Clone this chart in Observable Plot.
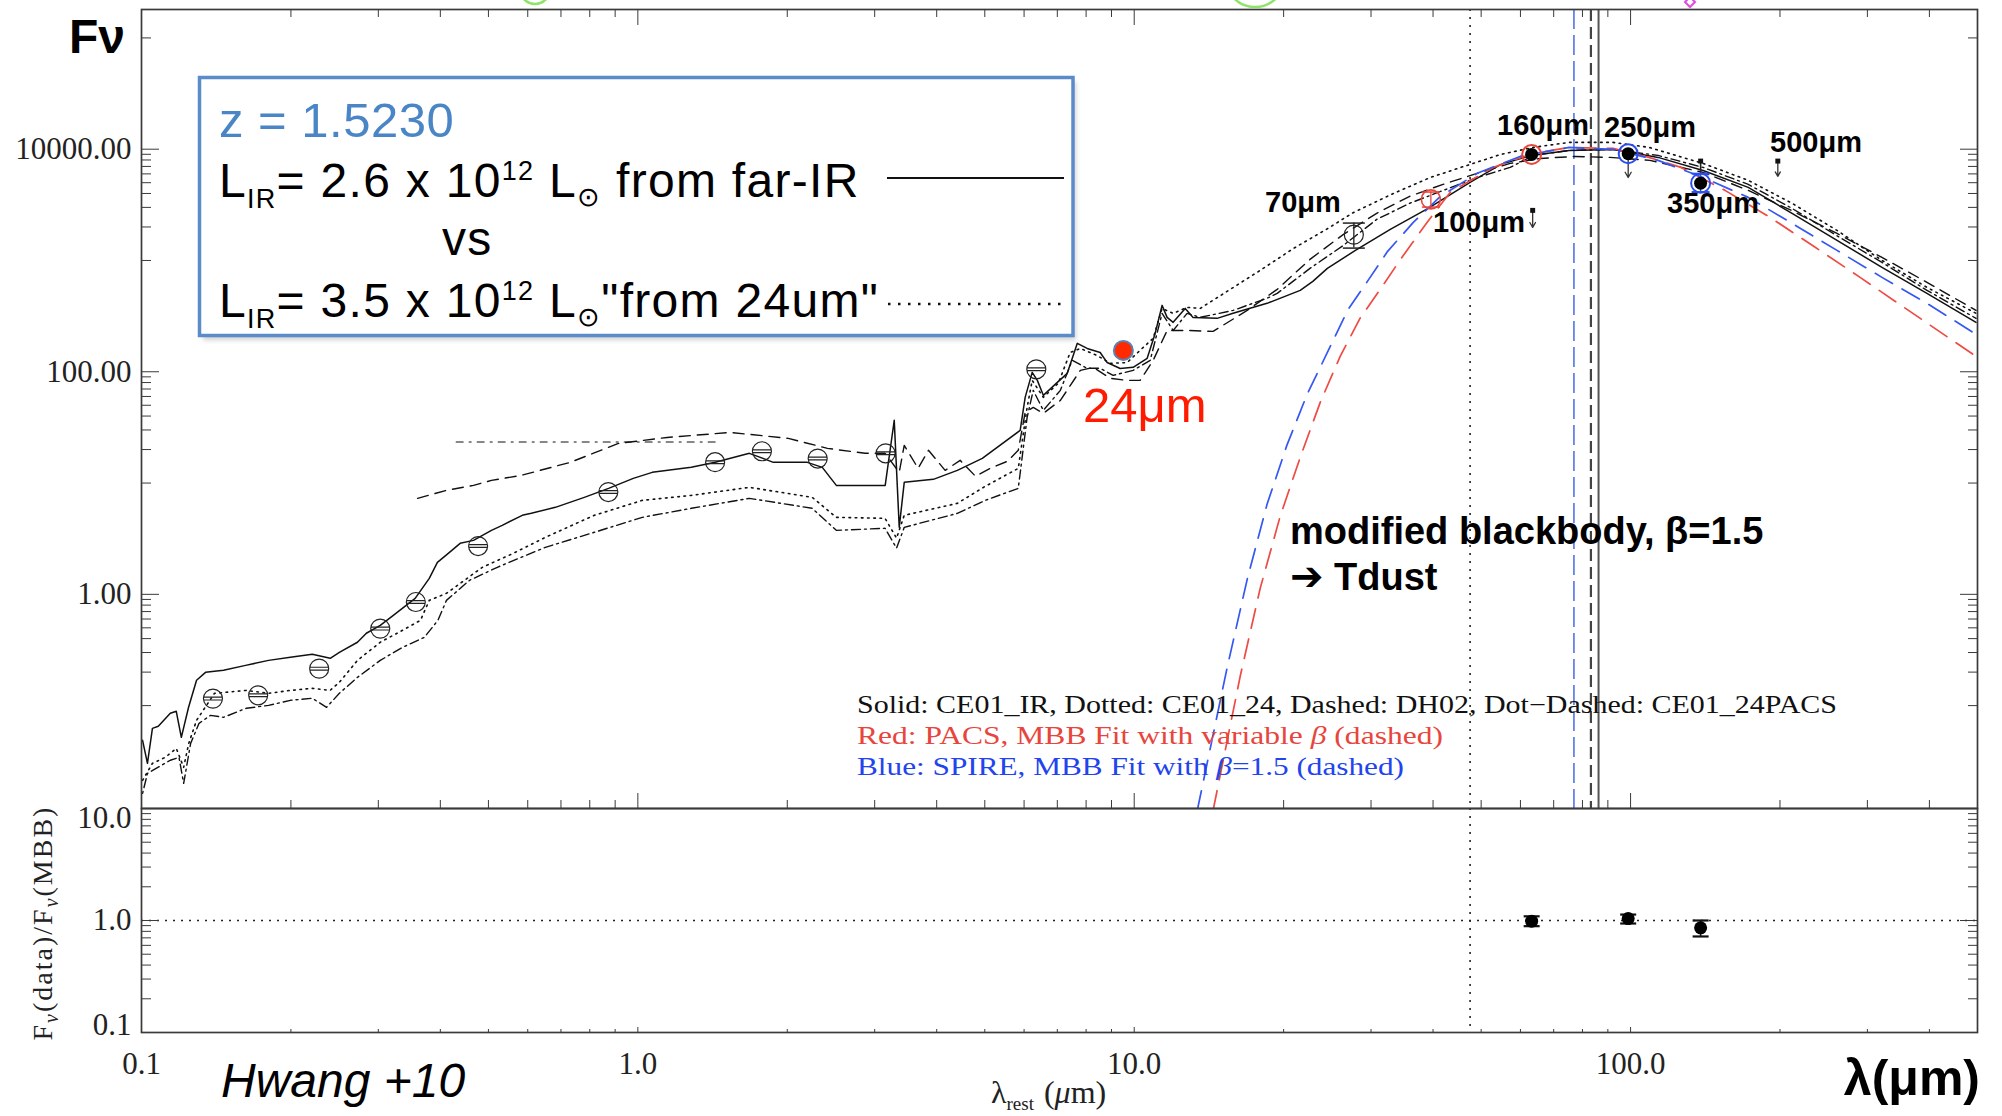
<!DOCTYPE html>
<html><head><meta charset="utf-8">
<script src="https://cdn.jsdelivr.net/npm/d3@7"></script>
<script src="https://cdn.jsdelivr.net/npm/@observablehq/plot@0.6"></script>
<style>
html,body{margin:0;padding:0;background:#fff;}
#wrap{position:relative;width:2002px;height:1116px;overflow:hidden;background:#fff;}
</style></head><body><div id="wrap"></div>
<script>
// ---------------- data (rest wavelength in micron, flux) ----------------
const solidLam = [0.1005,0.1028,0.1052,0.1081,0.1143,0.1175,0.1203,0.1244,0.1291,0.1346,0.1463,0.1621,0.1803,0.1995,0.2208,0.240,0.2504,0.2723,0.2838,0.3027,0.3216,0.3559,0.380,0.3946,0.415,0.4385,0.4665,0.507,0.533,0.585,0.610,0.682,0.780,0.873,0.979,1.069,1.281,1.432,1.678,1.875,2.195,2.353,2.511,3.150,3.285,3.362,3.441,3.938,4.402,4.942,5.892,6.03,6.23,6.38,6.56,7.00,7.33,7.68,8.04,8.54,8.82,9.37,9.95,10.62,11.02,11.38,11.65,11.98,12.67,13.14,14.69,15.82,18.52,21.6,22.9,24.5,27.9,32.8,39.1,47.5,54.8,63.1,75.2,92.2,100.3,113.6,140,172.6,211.5,260.6,321,395.5,496.6];
const solidF = [0.0488,0.0303,0.0625,0.0652,0.0853,0.0889,0.0519,0.0966,0.169,0.199,0.2075,0.230,0.255,0.272,0.289,0.266,0.301,0.371,0.447,0.526,0.647,0.921,1.393,1.94,2.335,2.873,3.055,3.758,4.169,5.127,5.343,6.05,7.44,8.96,11.02,12.48,13.84,15.35,18.49,15.35,15.35,13.84,9.53,9.53,36.6,4.0,10.15,10.8,13.0,16.67,29.7,58.9,98.8,83.7,61.4,80.3,96.8,180,162,149,121,107,109.6,132,221,395,308,278,371,308,302,335,412,539,649,849,1233,1903,2938,5031,7300,8790,9750,9960,9350,8440,6440,4540,2650,1517,867,506,278];

const dottedLam = [0.1005,0.1052,0.1117,0.1175,0.1216,0.1245,0.1291,0.1403,0.1626,0.1803,0.1995,0.2208,0.2399,0.2504,0.2723,0.3027,0.3357,0.3648,0.380,0.4115,0.486,0.561,0.651,0.817,1.021,1.282,1.678,2.245,2.511,3.148,3.32,3.441,4.402,5.01,5.84,6.085,6.23,6.56,7.03,7.43,7.79,8.42,8.95,9.68,10.28,10.92,11.38,11.98,12.78,13.58,15.38,17.94,20.9,24.5,27.6,33.2,39.5,47.5,54.8,63.7,75.2,92.2,108.9,140,172.6,211.5,260.6,321,395.5,496.6];
const dottedF = [0.0213,0.0303,0.0343,0.0413,0.0279,0.0458,0.0738,0.129,0.137,0.129,0.137,0.143,0.137,0.162,0.255,0.371,0.475,0.584,0.883,1.02,1.749,2.335,3.25,5.13,6.99,7.75,9.15,7.44,4.92,4.82,3.2,5.13,6.57,9.34,13.55,47.9,83.7,58.9,78.7,149,162,140,119,121,156,200,371,335,379,371,527,815,1277,1928,2685,3981,5570,7300,8980,10380,11510,11510,10380,7450,5250,3266,1862,1002,573,335];

const dashLam = [0.360,0.4115,0.4665,0.507,0.582,0.731,0.914,1.146,1.536,2.01,2.41,2.87,3.148,3.362,3.441,3.67,3.85,4.16,4.46,4.79,5.13,5.55,5.84,6.03,6.26,6.56,7.10,7.79,8.27,8.95,9.68,10.28,10.92,11.65,12.78,14.42,16.89,19.41,22.6,26.4,30.8,35.9,41.9,49.1,57.2,65.8,77.3,90.9,109.4,140,172.6,211.5,260.6,321,395.5,496.6];
const dashF = [7.29,8.6,9.53,10.57,11.72,15.35,22.7,25.7,28.5,25.2,20.5,18.5,18.5,12.48,21.8,13.55,19.7,13.0,16.0,11.5,13.55,15.67,19.7,43.2,47.9,42.3,55.3,103,109.6,87.3,83.7,83.7,126.6,235,235,230.7,356,550,1023,1718,2655,3776,4830,6070,7450,8260,8610,8440,7930,6190,4265,2800,1750,1067,636,356];

const dashFlatLam = [0.4305,1.432];
const dashFlatF = [23.4,23.4];

const dotDashLam = [0.1005,0.1028,0.1143,0.119,0.1216,0.1256,0.1306,0.1377,0.1463,0.1626,0.1803,0.1995,0.2208,0.236,0.2504,0.2723,0.3027,0.3357,0.3715,0.3955,0.4115,0.458,0.521,0.651,0.817,1.021,1.282,1.678,2.245,2.511,3.148,3.32,3.441,4.402,5.01,5.84,6.085,6.26,6.56,7.10,7.50,8.04,8.54,9.07,9.95,10.77,11.38,11.98,12.78,13.58,15.82,18.52,19.41,22.6,26.4,30.8,35.9,41.9,49.1,57.2,63.7,75.2,92.2,113.6,140,172.6,211.5,260.6,321,395.5,496.6];
const dotDashF = [0.0163,0.0246,0.0323,0.0343,0.020,0.0458,0.0693,0.0818,0.0785,0.0946,0.1006,0.1116,0.1164,0.0966,0.129,0.1795,0.255,0.334,0.411,0.584,0.883,1.336,1.749,2.645,3.61,4.92,5.93,7.29,5.93,3.76,3.92,2.6,4.0,5.34,6.99,8.96,38.9,68.1,45.0,68.1,126.6,107.4,107.4,92.8,103,126.6,335,235,335,308,356,457,506,849,1368,2339,3266,4256,5570,6860,8790,9750,9960,8790,6860,4830,2938,1667,961,539,302];

const redLam = [14.42,16.35,17.94,19.68,21.6,23.7,26.0,28.5,31.3,34.4,38.9,43.3,52.9,63.7,75.2,92.2,108.9,126.4,155,191,235.5,290,355.6,496.6];
const redF = [0.01146,0.1834,1.132,5.02,17.0,53.1,137.5,302,550,1023,2198,4090,6860,9170,10380,10160,8440,6860,4265,2440,1313,705,379,137.5];

const blueLam = [13.4,15.38,16.89,18.52,20.3,22.3,24.5,26.9,29.5,32.4,36.5,41.4,49.1,59.9,75.2,92.2,113.6,140,172.6,211.5,260.6,321,395.5,496.6];
const blueF = [0.01146,0.2164,1.364,6.44,21.8,62.6,149,356,649,1208,2198,3767,6070,8610,10380,9960,7930,5570,3690,2155,1233,705,412,217];

// photometry
const photLam = [0.1393,0.1718,0.228,0.3027,0.357,0.4766,0.872,1.431,1.778,2.303,3.156,6.35];
const photF = [0.1156,0.1238,0.215,0.492,0.853,2.716,8.30,15.4,19.3,16.6,18.5,105.2];
const mipsLam = [9.51], mipsF = [155.6];
const pacs70Lam = [27.7], pacs70F = [1706], pacs70Lo = [1292], pacs70Hi = [2168];
const pacs100Lam = [39.6], pacs100F = [3540], pacs100Lo = [3020], pacs100Hi = [4120];
const farLam = [63.2, 98.9, 138.4], farF = [8980, 9120, 4955], farRing = ["#e8453c", "#2b4ef0", "#2b4ef0"];
const s350Lo = [4120], s350Hi = [6025], s350Stem = [5900, 7820];
const ulLam = [63.5, 98.9, 198], ulTop = [2820, 8600, 7820], ulTip = [1983, 5570, 5700];
const sqLam = [63.5, 138.4, 198], sqF = [2820, 7820, 7820];

// ratio panel
const ratioLam = [63.2, 98.9, 138.4];
const ratio = [0.986, 1.04, 0.86];
const ratioLo = [0.89, 0.94, 0.72];
const ratioHi = [1.09, 1.13, 1.0];

// reference lines
const vDotted = [47.5], vBlueDash = [76.9], vDash = [83.2], vSolid = [86.2];

// ticks
const xMajor = [0.1, 1, 10, 100];
const xMinor = [0.2,0.3,0.4,0.5,0.6,0.7,0.8,0.9,2,3,4,5,6,7,8,9,20,30,40,50,60,70,80,90,200,300,400];
const yMainMajor = [1, 100, 10000];
const yMainMinor = [0.1,0.2,0.3,0.4,0.5,0.6,0.7,0.8,0.9,10,20,30,40,50,60,70,80,90,1000,2000,3000,4000,5000,6000,7000,8000,9000,100000];
const yLowMajor = [0.1, 1, 10];
const yLowMinor = [0.2,0.3,0.4,0.5,0.6,0.7,0.8,0.9,2,3,4,5,6,7,8,9];

// ---------------- build ----------------
const zip = (L, F) => L.map((l, i) => ({l, f: F[i]}));
const ink = "#3a3a3a";
const barCircle = {draw(ctx, size) { const r = Math.sqrt(size / Math.PI); ctx.moveTo(r, 0); ctx.arc(0, 0, r, 0, 2 * Math.PI); ctx.moveTo(-r, -1.4); ctx.lineTo(r, -1.4); ctx.moveTo(-r, 1.4); ctx.lineTo(r, 1.4); }};
const cap = {draw(ctx, size) { const r = Math.sqrt(size / Math.PI); ctx.moveTo(-r, 0); ctx.lineTo(r, 0); }};
const svgStyle = {position: "absolute", left: "0px", top: "0px", background: "transparent", fontFamily: "'Liberation Serif','DejaVu Serif',serif", fontSize: "31px", color: "#222"};

const farPts = farLam.map((l, i) => ({l, f: farF[i], ring: farRing[i]}));
const ul = ulLam.map((l, i) => ({l, top: ulTop[i], tip: ulTip[i]}));
const lineOpts = (extra) => ({x: "l", y: "f", clip: true, strokeWidth: 1.4, stroke: "#111", ...extra});

const main = Plot.plot({
  width: 2002, height: 812,
  marginTop: 9, marginBottom: 4, marginLeft: 141, marginRight: 25,
  x: {type: "log", domain: [0.1, 500], label: null},
  y: {type: "log", domain: [0.0119, 180000], label: null},
  style: svgStyle,
  marks: [
    Plot.ruleX(vDotted, {stroke: "#222", strokeWidth: 1.6, strokeDasharray: "2,6"}),
    Plot.ruleX(vBlueDash, {stroke: "#3a5fe6", strokeWidth: 1.4, strokeDasharray: "20,6"}),
    Plot.ruleX(vDash, {stroke: "#444", strokeWidth: 2.2, strokeDasharray: "12,6"}),
    Plot.ruleX(vSolid, {stroke: "#555", strokeWidth: 2}),
    Plot.line(zip(dashFlatLam, dashFlatF), lineOpts({strokeWidth: 1.1, strokeDasharray: "7,6,2,6"})),
    Plot.line(zip(dottedLam, dottedF), lineOpts({strokeWidth: 1.6, strokeDasharray: "1.6,4.6"})),
    Plot.line(zip(dotDashLam, dotDashF), lineOpts({strokeWidth: 1.4, strokeDasharray: "2,4,9,4"})),
    Plot.line(zip(dashLam, dashF), lineOpts({strokeWidth: 1.4, strokeDasharray: "11,7"})),
    Plot.line(zip(solidLam, solidF), lineOpts({strokeWidth: 1.5})),
    Plot.line(zip(redLam, redF), lineOpts({stroke: "#ee4b44", strokeWidth: 1.7, strokeDasharray: "20,11"})),
    Plot.line(zip(blueLam, blueF), lineOpts({stroke: "#3557f2", strokeWidth: 1.7, strokeDasharray: "20,11"})),
    // photometry
    Plot.dot(zip(photLam, photF), {x: "l", y: "f", r: 9.5, symbol: barCircle, stroke: "#222", strokeWidth: 1.2, fill: "none"}),
    Plot.ruleX(pacs70Lam.map((l, i) => ({l, lo: pacs70Lo[i], hi: pacs70Hi[i]})), {x: "l", y1: "lo", y2: "hi", stroke: "#222", strokeWidth: 1.3}),
    Plot.dot(pacs70Lam.flatMap((l, i) => [{l, f: pacs70Lo[i]}, {l, f: pacs70Hi[i]}]), {x: "l", y: "f", r: 11, symbol: cap, stroke: "#222", strokeWidth: 1.5}),
    Plot.dot(zip(pacs70Lam, pacs70F), {x: "l", y: "f", r: 9.5, stroke: "#222", strokeWidth: 1.2, fill: "none"}),
    Plot.ruleX(pacs100Lam.map((l, i) => ({l, lo: pacs100Lo[i], hi: pacs100Hi[i]})), {x: "l", y1: "lo", y2: "hi", stroke: "#e8453c", strokeWidth: 1.3}),
    Plot.dot(pacs100Lam.flatMap((l, i) => [{l, f: pacs100Lo[i]}, {l, f: pacs100Hi[i]}]), {x: "l", y: "f", r: 9, symbol: cap, stroke: "#e8453c", strokeWidth: 1.5}),
    Plot.dot(zip(pacs100Lam, pacs100F), {x: "l", y: "f", r: 9.5, stroke: "#e8453c", strokeWidth: 1.6, fill: "none"}),
    Plot.dot(zip(mipsLam, mipsF), {x: "l", y: "f", r: 9.5, fill: "#ff2a00", stroke: "#5b82b5", strokeWidth: 2}),
    Plot.arrow(ul, {x: "l", y1: "top", y2: "tip", stroke: "#333", strokeWidth: 1.3, headLength: 7}),
    Plot.ruleX([{l: farLam[2], lo: s350Stem[0], hi: s350Stem[1]}], {x: "l", y1: "lo", y2: "hi", stroke: "#222", strokeWidth: 1.6}),
    Plot.dot(zip(sqLam, sqF), {x: "l", y: "f", r: 2.8, symbol: "square", fill: "#111"}),
    Plot.ruleX([{l: farLam[2], lo: s350Lo[0], hi: s350Hi[0]}], {x: "l", y1: "lo", y2: "hi", stroke: "#2b4ef0", strokeWidth: 1.4}),
    Plot.dot([{l: farLam[2], f: s350Lo[0]}, {l: farLam[2], f: s350Hi[0]}], {x: "l", y: "f", r: 9, symbol: cap, stroke: "#2b4ef0", strokeWidth: 2}),
    Plot.dot(farPts, {x: "l", y: "f", r: 6.5, fill: "#000"}),
    Plot.dot(farPts, {x: "l", y: "f", r: 9.5, fill: "none", stroke: "ring", strokeWidth: 2}),
    // axes
    Plot.axisY(yMainMajor, {anchor: "left", tickSize: -18, fill: "none", stroke: ink, label: null}),
    Plot.axisY(yMainMinor, {anchor: "left", tickSize: -10, fill: "none", stroke: ink, label: null}),
    Plot.axisY(yMainMajor, {anchor: "right", tickSize: -18, fill: "none", stroke: ink, label: null}),
    Plot.axisY(yMainMinor, {anchor: "right", tickSize: -10, fill: "none", stroke: ink, label: null}),
    Plot.axisX(xMajor, {anchor: "top", tickSize: -15, fill: "none", stroke: ink, label: null}),
    Plot.axisX(xMinor, {anchor: "top", tickSize: -7, fill: "none", stroke: ink, label: null}),
    Plot.axisX(xMajor, {anchor: "bottom", tickSize: -15, fill: "none", stroke: ink, label: null}),
    Plot.axisX(xMinor, {anchor: "bottom", tickSize: -8, fill: "none", stroke: ink, label: null}),
    Plot.axisY(yMainMajor, {anchor: "left", tickSize: 0, tickPadding: 10, tickFormat: d3.format(".2f"), fill: "#222", label: null}),
    Plot.frame({stroke: ink, strokeWidth: 1.7})
  ]
});

const low = Plot.plot({
  width: 2002, height: 1116,
  marginTop: 808, marginBottom: 84, marginLeft: 141, marginRight: 25,
  x: {type: "log", domain: [0.1, 500], label: null},
  y: {type: "log", domain: [0.1, 10], label: null},
  style: svgStyle,
  marks: [
    Plot.ruleY([1], {stroke: "#222", strokeWidth: 1.6, strokeDasharray: "2,6"}),
    Plot.ruleX(vDotted, {stroke: "#222", strokeWidth: 1.6, strokeDasharray: "2,6"}),
    Plot.ruleX(ratioLam.map((l, i) => ({l, lo: ratioLo[i], hi: ratioHi[i]})), {x: "l", y1: "lo", y2: "hi", stroke: "#111", strokeWidth: 1.6}),
    Plot.dot(ratioLam.flatMap((l, i) => [{l, f: ratioLo[i]}, {l, f: ratioHi[i]}]), {x: "l", y: "f", r: 8, symbol: cap, stroke: "#111", strokeWidth: 2.2}),
    Plot.dot(zip(ratioLam, ratio), {x: "l", y: "f", r: 6.5, fill: "#000"}),
    Plot.axisY(yLowMajor, {anchor: "left", tickSize: -18, fill: "none", stroke: ink, label: null}),
    Plot.axisY(yLowMinor, {anchor: "left", tickSize: -10, fill: "none", stroke: ink, label: null}),
    Plot.axisY(yLowMajor, {anchor: "right", tickSize: -18, fill: "none", stroke: ink, label: null}),
    Plot.axisY(yLowMinor, {anchor: "right", tickSize: -10, fill: "none", stroke: ink, label: null}),
    Plot.axisX(xMajor, {anchor: "bottom", tickSize: -5, fill: "none", stroke: ink, label: null}),
    Plot.axisX(xMinor, {anchor: "bottom", tickSize: -3, fill: "none", stroke: ink, label: null}),
    Plot.axisX(xMajor, {anchor: "bottom", tickSize: 0, tickPadding: 19, tickFormat: d3.format(".1f"), fill: "#222", label: null}),
    Plot.axisY([yLowMajor[2]], {anchor: "left", tickSize: 0, tickPadding: 10, dy: 10, tickFormat: d3.format(".1f"), fill: "#222", label: null}),
    Plot.axisY([yLowMajor[1]], {anchor: "left", tickSize: 0, tickPadding: 10, tickFormat: d3.format(".1f"), fill: "#222", label: null}),
    Plot.axisY([yLowMajor[0]], {anchor: "left", tickSize: 0, tickPadding: 10, dy: -7, tickFormat: d3.format(".1f"), fill: "#222", label: null}),
    Plot.frame({stroke: ink, strokeWidth: 1.7})
  ]
});

const wrap = document.getElementById("wrap");
wrap.appendChild(main);
wrap.appendChild(low);

const overlay = `
<svg xmlns="http://www.w3.org/2000/svg" width="2002" height="1116" style="position:absolute;left:0;top:0" font-family="'Liberation Sans', Arial, sans-serif">
<defs><filter id="sh" x="-5%" y="-5%" width="110%" height="120%"><feGaussianBlur stdDeviation="2.5"/></filter></defs>
<circle cx="535" cy="-11" r="15" fill="none" stroke="#8ee36b" stroke-width="2.5"/>
<circle cx="1255" cy="-23" r="30" fill="none" stroke="#8ee36b" stroke-width="2.5"/>
<path d="M1690,-3 l5,5 l-5,5 l-5,-5z" fill="none" stroke="#e24be0" stroke-width="2"/>
<text x="69" y="53" font-size="48" font-weight="bold">Fν</text>
<rect x="203" y="82" width="873" height="258" fill="#999" opacity="0.45" filter="url(#sh)"/>
<rect x="199.5" y="77.5" width="873.5" height="258" fill="#fff" stroke="#5b8cc9" stroke-width="3.5"/>
<text x="219" y="137" font-size="49" fill="#4a86c6" letter-spacing="0.5">z = 1.5230</text>
<g font-size="48" fill="#000" letter-spacing="1.3">
<text x="219" y="197">L<tspan font-size="27" dy="11">IR</tspan><tspan dy="-11">= 2.6 x 10</tspan><tspan font-size="27" dy="-17">12</tspan><tspan dy="17"> L</tspan><tspan font-size="27" dy="9">⊙</tspan><tspan dy="-9"> from far-IR</tspan></text>
<text x="442" y="255">vs</text>
<text x="219" y="317">L<tspan font-size="27" dy="11">IR</tspan><tspan dy="-11">= 3.5 x 10</tspan><tspan font-size="27" dy="-17">12</tspan><tspan dy="17"> L</tspan><tspan font-size="27" dy="9">⊙</tspan><tspan dy="-9">"from 24um"</tspan></text>
</g>
<line x1="887" y1="178" x2="1064" y2="178" stroke="#111" stroke-width="2.2"/>
<line x1="888" y1="304" x2="1066" y2="304" stroke="#111" stroke-width="2.5" stroke-dasharray="2.5,7.5"/>
<g font-weight="bold" font-size="29" fill="#000">
<text x="1265" y="212">70μm</text>
<text x="1433" y="232">100μm</text>
<text x="1497" y="135">160μm</text>
<text x="1604" y="137">250μm</text>
<text x="1667" y="213">350μm</text>
<text x="1770" y="152">500μm</text>
</g>
<text x="1083" y="422" font-size="49" fill="#ff1a00">24μm</text>
<text x="1290" y="544" font-size="38" font-weight="bold">modified blackbody, β=1.5</text>
<text x="1290" y="590" font-size="38" font-weight="bold"><tspan font-family="'DejaVu Sans', sans-serif" font-size="40">➔</tspan> Tdust</text>
<g font-family="'Liberation Serif', serif" font-size="25">
<text x="857" y="713" textLength="980" lengthAdjust="spacingAndGlyphs" fill="#111">Solid: CE01_IR, Dotted: CE01_24, Dashed: DH02, Dot−Dashed: CE01_24PACS</text>
<text x="857" y="744" textLength="586" lengthAdjust="spacingAndGlyphs" fill="#e8453c">Red: PACS, MBB Fit with variable <tspan font-style="italic">β</tspan> (dashed)</text>
<text x="857" y="775" textLength="547" lengthAdjust="spacingAndGlyphs" fill="#2244ee">Blue: SPIRE, MBB Fit with <tspan font-style="italic">β</tspan>=1.5 (dashed)</text>
</g>
<text x="221" y="1097" font-size="48" font-style="italic">Hwang +10</text>
<text x="1980" y="1095" text-anchor="end" font-size="50" font-weight="bold">λ(μm)</text>
<text x="991" y="1103" font-family="'Liberation Serif', serif" font-size="32" fill="#222">λ<tspan font-size="19" dy="7">rest</tspan><tspan dy="-7" dx="10">(</tspan><tspan font-style="italic">μ</tspan>m)</text>
<text transform="translate(52,923) rotate(-90)" text-anchor="middle" font-family="'Liberation Serif', serif" font-size="28" letter-spacing="2" fill="#222">F<tspan font-size="20" dy="6" font-style="italic">ν</tspan><tspan dy="-6">(data)/F</tspan><tspan font-size="20" dy="6" font-style="italic">ν</tspan><tspan dy="-6">(MBB)</tspan></text>
</svg>`;
wrap.insertAdjacentHTML("beforeend", overlay);
</script></body></html>
